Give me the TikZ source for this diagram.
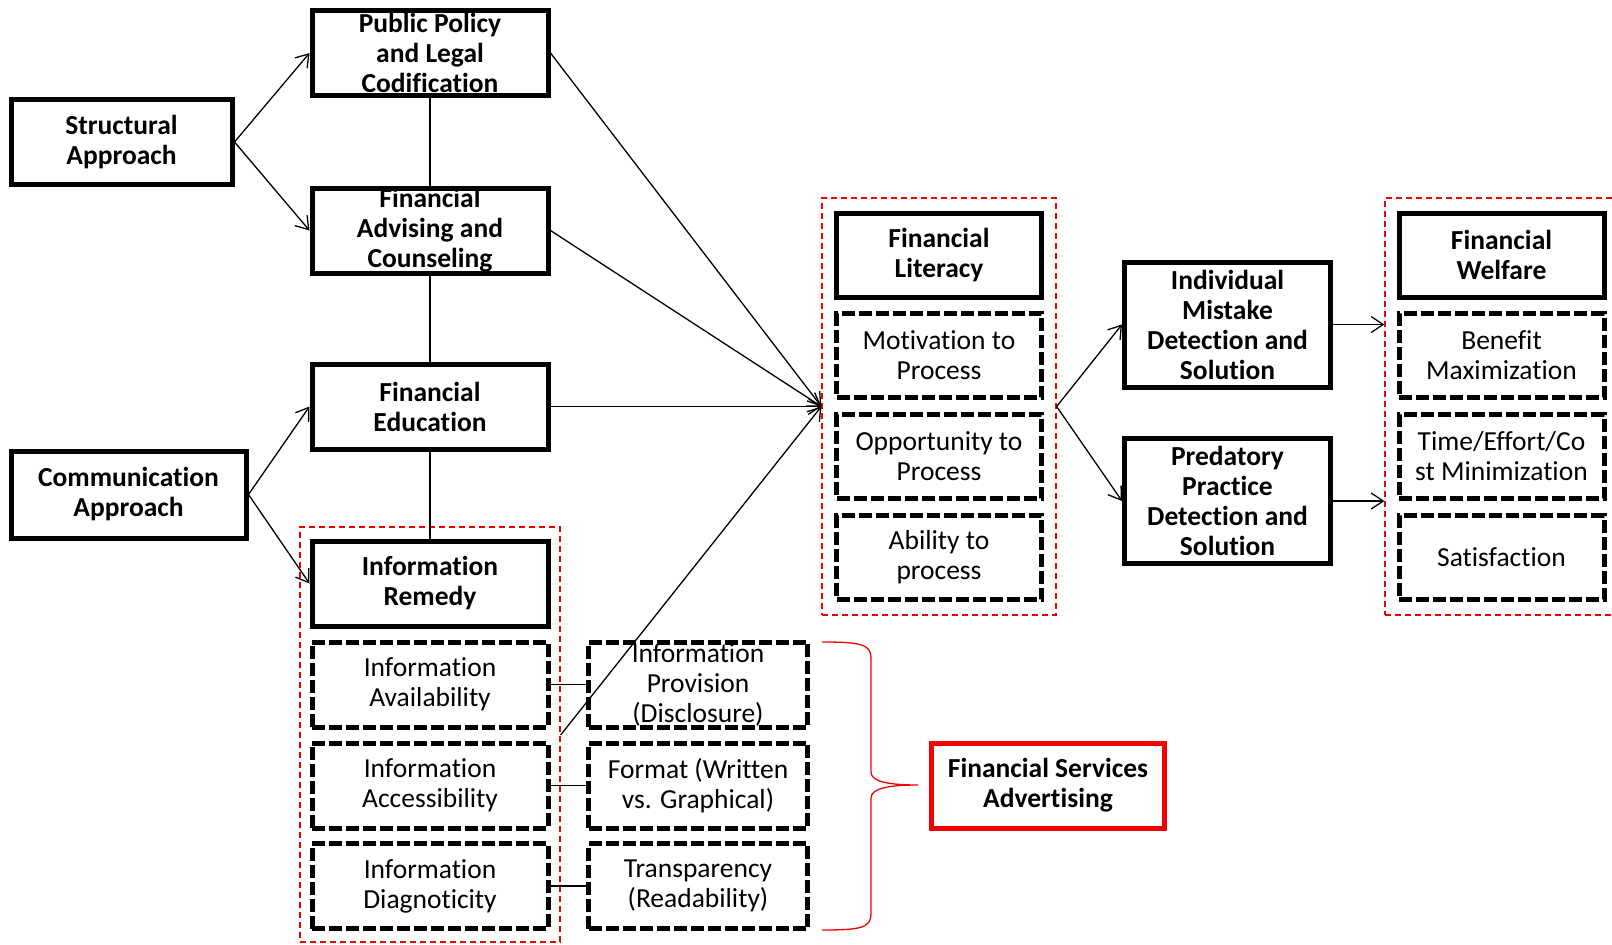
\documentclass[tikz,border=0pt]{standalone}
\usepackage{fontspec}
\setmainfont{Carlito}[Ligatures=NoCommon]
\usetikzlibrary{arrows.meta,calc}
\definecolor{accentred}{RGB}{240,0,0}
\begin{document}
\begin{tikzpicture}[x=1pt,y=-1pt,
  solidbox/.style={draw=black,line width=5pt,rectangle,inner sep=0pt},
  dashbox/.style={draw=black,line width=5pt,dash pattern=on 13pt off 4pt,rectangle,inner sep=0pt},
  redbox/.style={draw=accentred,line width=5pt,rectangle,inner sep=0pt},
  redgroup/.style={draw=accentred,line width=1.3pt,dash pattern=on 6pt off 4pt,rectangle,inner sep=0pt},
  colA/.style={minimum width=236pt,minimum height=85pt},
  colB/.style={minimum width=219pt,minimum height=85pt},
  colC/.style={minimum width=205pt,minimum height=84pt},
  colD/.style={minimum width=206pt,minimum height=125pt},
  txtb/.style={font=\fontsize{27.5}{30}\selectfont\bfseries,align=center,inner sep=0pt,text=black},
  txtr/.style={font=\fontsize{27.5}{30}\selectfont,align=center,inner sep=0pt,text=black},
  link/.style={draw=black,line width=1.3pt},
  arr/.style={link,-{Straight Barb[length=12pt,width=16pt,line width=1.3pt]}},
  bracered/.style={draw=accentred,line width=1.3pt}
]
\useasboundingbox (0,0) rectangle (1612,945);

% dashed red groupings
\node[redgroup,minimum width=260pt,minimum height=415pt] (g1) at (430,734.5) {};
\node[redgroup,minimum width=234pt,minimum height=417pt] (g2) at (939,406.5) {};
\node[redgroup,minimum width=240pt,minimum height=417pt] (g3) at (1505,406.5) {};

% approaches
\node[solidbox,minimum width=221pt,minimum height=85pt] (sa) at (121.5,142) {};
\node[txtb] (saT) at (sa) {Structural\\Approach};
\node[solidbox,minimum width=235pt,minimum height=87pt] (ca) at (128.5,494.5) {};
\node[txtb] (caT) at (ca) {Communication\\Approach};

% remedies column
\node[solidbox,colA] (pp) at (430,53) {};
\node[txtb] (ppT) at (pp) {Public Policy\\and Legal\\Codification};
\node[solidbox,colA] (fa) at (430,230.5) {};
\node[txtb] (faT) at (fa) {Financial\\Advising and\\Counseling};
\node[solidbox,colA] (fe) at (430,406.5) {};
\node[txtb] (feT) at (fe) {Financial\\Education};
\node[solidbox,colA] (ir) at (430,583.5) {};
\node[txtb] (irT) at (ir) {Information\\Remedy};
\node[dashbox,colA] (iav) at (430,684.5) {};
\node[txtr] (iavT) at (iav) {Information\\Availability};
\node[dashbox,colA] (iac) at (430,785.5) {};
\node[txtr] (iacT) at (iac) {Information\\Accessibility};
\node[dashbox,colA] (idg) at (430,886) {};
\node[txtr] (idgT) at (idg) {Information\\Diagnoticity};

% advertising attributes
\node[dashbox,colB] (ip) at (698,684.5) {};
\node[txtr] (ipT) at (ip) {Information\\Provision\\(Disclosure)};
\node[dashbox,colB] (fmt) at (698,785.5) {};
\node[txtr] (fmtT) at (fmt) {Format (Written\\vs. Graphical)};
\node[dashbox,colB] (trn) at (698,886) {};
\node[txtr] (trnT) at (trn) {Transparency\\(Readability)};
\node[redbox,minimum width=233pt,minimum height=85pt] (fsa) at (1048,785.5) {};
\node[txtb] (fsaT) at (fsa) {Financial Services\\Advertising};

% financial literacy
\node[solidbox,colC] (fl) at (939,255) {};
\node[txtb] (flT) at (fl) {Financial\\Literacy};
\node[dashbox,colC] (mot) at (939,355.5) {};
\node[txtr] (motT) at (mot) {Motivation to\\Process};
\node[dashbox,colC] (opp) at (939,456.5) {};
\node[txtr] (oppT) at (opp) {Opportunity to\\Process};
\node[dashbox,colC] (abl) at (939,557.5) {};
\node[txtr] (ablT) at (abl) {Ability to\\process};

% outcomes
\node[solidbox,colD] (im) at (1227.5,324.5) {};
\node[txtb] (imT) at (im) {Individual\\Mistake\\Detection and\\Solution};
\node[solidbox,colD] (pd) at (1227.5,501) {};
\node[txtb] (pdT) at (pd) {Predatory\\Practice\\Detection and\\Solution};

% financial welfare
\node[solidbox,colC] (fw) at (1501.5,255) {};
\node[txtb] (fwT) at (fw) {Financial\\Welfare};
\node[dashbox,colC] (ben) at (1501.5,355.5) {};
\node[txtr] (benT) at (ben) {Benefit\\Maximization};
\node[dashbox,colC] (tec) at (1501.5,456.5) {};
\node[txtr] (tecT) at (tec) {Time/Effort/Co\\st Minimization};
\node[dashbox,colC] (sat) at (1501.5,557.5) {};
\node[txtr] (satT) at (sat) {Satisfaction};

% connectors
\draw[arr] (sa.east) -- (pp.west);
\draw[arr] (sa.east) -- (fa.west);
\draw[arr] (ca.east) -- (fe.west);
\draw[arr] (ca.east) -- (ir.west);
\draw[link] (pp.south) -- (fa.north);
\draw[link] (fa.south) -- (fe.north);
\draw[link] (fe.south) -- (ir.north);
\coordinate (gapmid) at ($(iav.south)!0.5!(iac.north)$);
\coordinate (src) at (gapmid -| g1.east);
\draw[arr] (pp.east) -- (g2.west);
\draw[arr] (fa.east) -- (g2.west);
\draw[arr] (fe.east) -- (g2.west);
\draw[arr] (src) -- (g2.west);
\draw[link] (iav.east) -- (ip.west);
\draw[link] (iac.east) -- (fmt.west);
\draw[link] (idg.east) -- (trn.west);
\draw[arr] (g2.east) -- (im.west);
\draw[arr] (g2.east) -- (pd.west);
\draw[arr] (im.east) -- (im.east -| g3.west);
\draw[arr] (pd.east) -- (pd.east -| g3.west);

% curly brace gathering the advertising attributes
\coordinate (brTop) at (822,642);
\coordinate (brBot) at (822,930);
\coordinate (brTip) at (918,785);
\draw[bracered] (brTop) .. controls (860,642) and (871,644) .. (871,658)
  -- (871,772) .. controls (871,782) and (890,785) .. (brTip)
  .. controls (890,785) and (871,788) .. (871,798)
  -- (871,914) .. controls (871,928) and (860,930) .. (brBot);
\end{tikzpicture}
\end{document}
